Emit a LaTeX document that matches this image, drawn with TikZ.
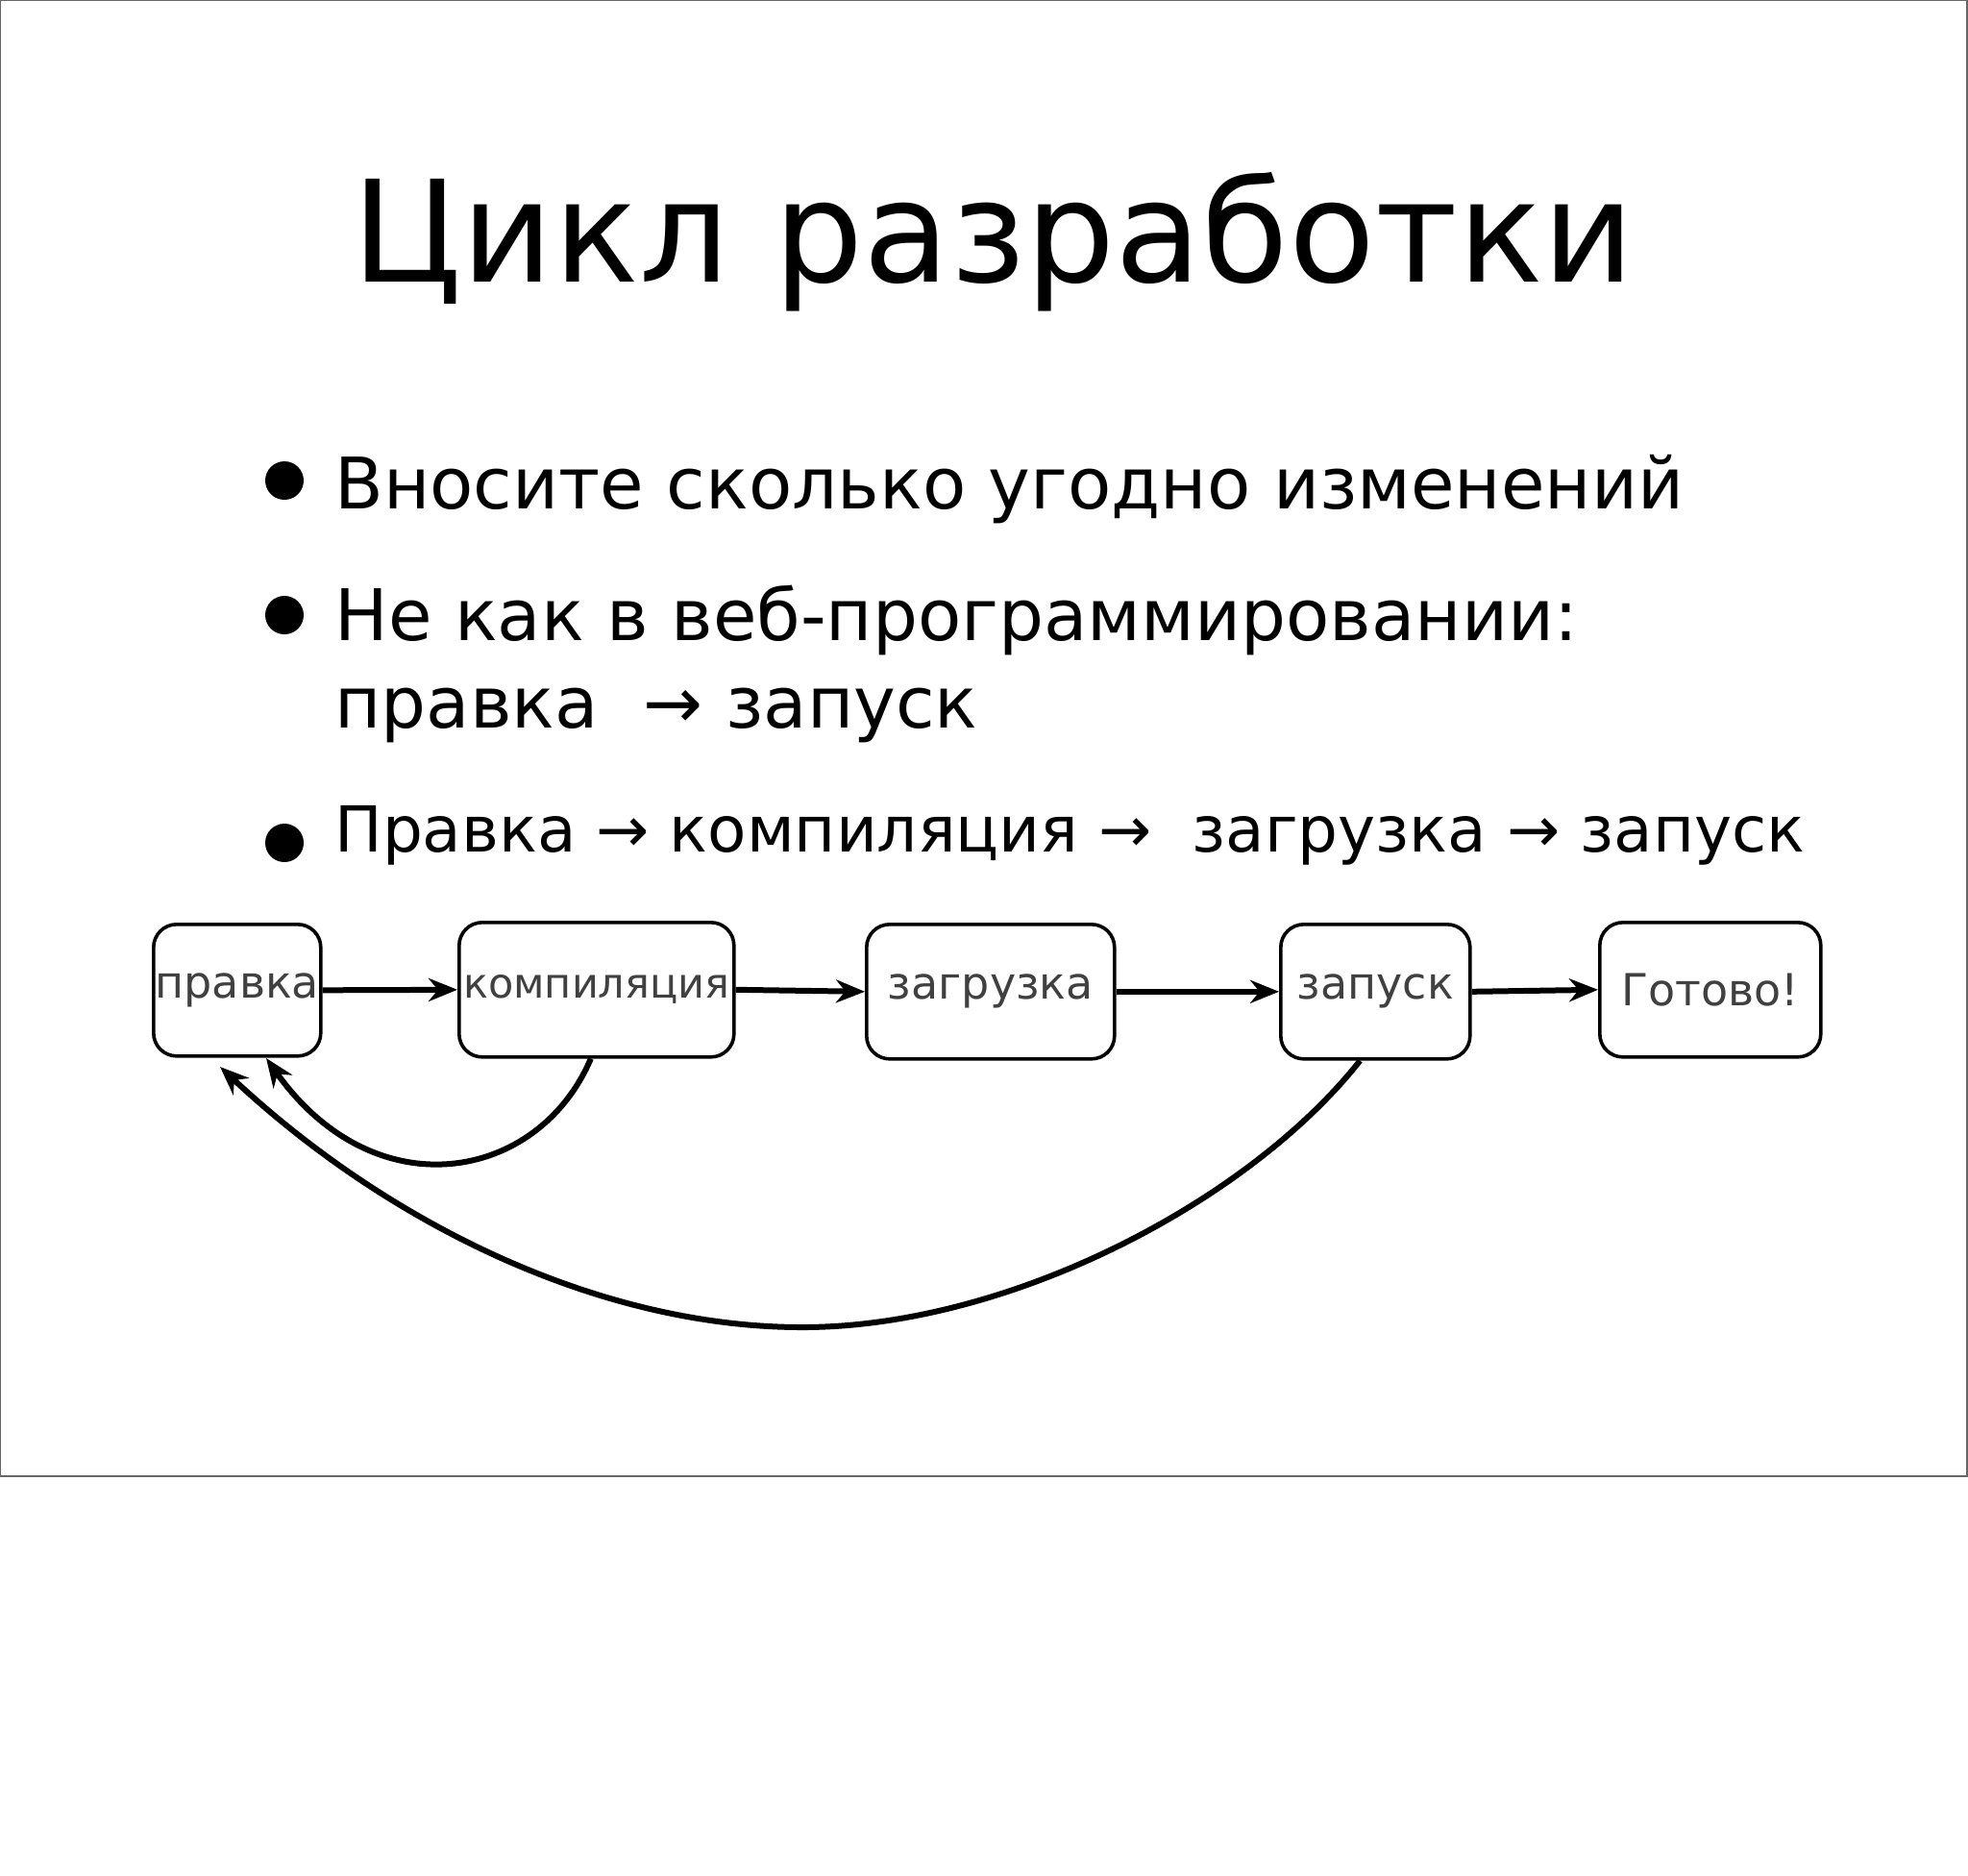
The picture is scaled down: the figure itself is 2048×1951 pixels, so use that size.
\documentclass[tikz,border=0pt]{standalone}
\usepackage{fontspec}
\setmainfont{DejaVu Sans}
\usetikzlibrary{arrows.meta}
\begin{document}
\begin{tikzpicture}[x=0.5pt,y=-0.5pt,
  box/.style={draw,line width=1.8pt,rounded corners=12pt,inner sep=0pt,anchor=north west,text=black!75,font=\fontsize{23}{27}\selectfont},
  arr/.style={line width=3pt,-{Stealth[length=15pt,width=12pt]}},
  txt/.style={anchor=base west,inner sep=0pt,font=\fontsize{37}{44}\selectfont}]
\useasboundingbox (0,0) rectangle (2048,1951);
\draw[black!60,line width=0.8pt] (0,0) rectangle (2047,1536);
\node[anchor=base,inner sep=0pt,font=\fontsize{73.5}{88}\selectfont] (title) at (1034,293) {Цикл разработки};
\node[txt] (b1) at (348,529) {Вносите сколько угодно изменений};
\node[txt] (b2) at (348,666) {Не как в веб-программировании:};
\node[txt] (b2b) at (348,757) {правка \ → запуск};
\node[txt,font=\fontsize{33}{40}\selectfont] (b3) at (348,886) {Правка → компиляция → \ загрузка → запуск};
\foreach \y/\n in {500/d1,640/d2,877/d3} \fill (296,\y) circle (20) coordinate (\n);
\node[box,minimum width=87pt,minimum height=68.5pt] (p) at (158,960) {правка};
\node[box,minimum width=143pt,minimum height=70pt,font=\fontsize{21.5}{26}\selectfont] (k) at (476,958) {компиляция};
\node[box,minimum width=129pt,minimum height=70pt] (z) at (900,960) {загрузка};
\node[box,minimum width=98.5pt,minimum height=70pt] (r) at (1331,960) {запуск};
\node[box,minimum width=115pt,minimum height=70pt] (g) at (1663,958) {Готово!};
\draw[arr] (p.east) -- (k.west);
\draw[arr] (k.east) -- (z.west);
\draw[arr] (z.east) -- (r.west);
\draw[arr] (r.east) -- (g.west);
\draw[arr] ([xshift=-3pt]k.south) .. controls (560,1230) and (390,1260) .. (277,1101);
\draw[arr] ([xshift=-8pt]r.south) .. controls (1300,1250) and (1050,1381) .. (835,1381) .. controls (620,1381) and (400,1270) .. (229,1110);
\end{tikzpicture}
\end{document}
